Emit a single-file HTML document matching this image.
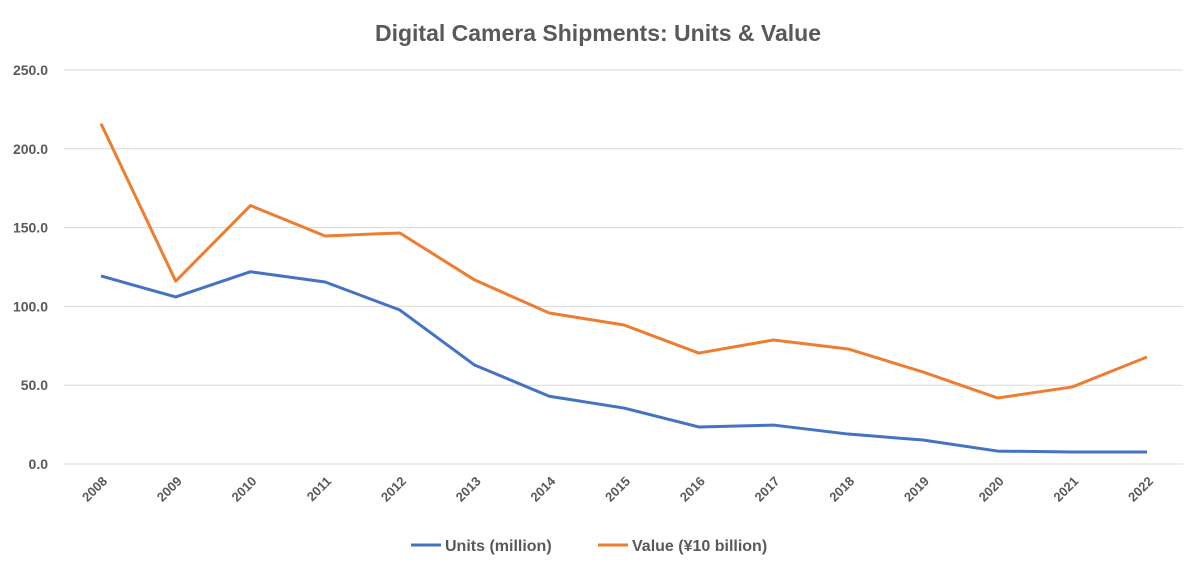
<!DOCTYPE html>
<html><head><meta charset="utf-8"><style>
body{margin:0;background:#fff;font-family:"Liberation Sans",sans-serif;}
svg{display:block}
</style></head><body>
<svg id="chart" width="1200" height="571">
<text x="598" y="41" text-anchor="middle" font-size="23" font-weight="bold" fill="#595959">Digital Camera Shipments: Units &amp; Value</text>
<g id="grid"></g><g id="ylab"></g><g id="xlab"></g><g id="lines"></g>
<g>
<g><line x1="411" y1="545" x2="441" y2="545" stroke="#4472C4" stroke-width="3"/><text x="445" y="551" font-size="16" font-weight="bold" fill="#595959">Units (million)</text></g>
<g><line x1="598" y1="545" x2="628" y2="545" stroke="#ED7D31" stroke-width="3"/><text x="632" y="551" font-size="16" font-weight="bold" fill="#595959">Value (¥10 billion)</text></g>
</g>
</svg>
<script>
const years=['2008','2009','2010','2011','2012','2013','2014','2015','2016','2017','2018','2019','2020','2021','2022'];
const units=[119.3,106,122,115.5,97.7,62.8,43,35.5,23.5,24.7,19,15.2,8.2,7.6,7.6];
const value=[216,116,164,144.7,146.6,116.8,95.8,88.2,70.4,78.7,73,58.4,41.9,48.9,67.9];
const yTicks=[0,50,100,150,200,250];
const NS='http://www.w3.org/2000/svg';
const y=v=>464-v*(394/250);
const x=i=>101+i*(1046/14);
function mk(t,a,p){const e=document.createElementNS(NS,t);for(const k in a)e.setAttribute(k,a[k]);p.appendChild(e);return e;}
const grid=document.getElementById('grid'),yl=document.getElementById('ylab'),xl=document.getElementById('xlab'),ln=document.getElementById('lines');
yTicks.forEach(t=>{
 const g=mk('line',{x1:64,x2:1183,y1:y(t),y2:y(t),stroke:'#D9D9D9','stroke-width':1},grid);
 
 
 const l=mk('text',{x:48,y:y(t)+5,'text-anchor':'end','font-size':14,'font-weight':'bold',fill:'#595959'},yl);
 l.textContent=t.toFixed(1);
 
 
});
years.forEach((yr,i)=>{
 const l=mk('text',{x:x(i)+7,y:482,'text-anchor':'end','font-size':13,'font-weight':'bold',fill:'#595959',transform:`rotate(-45 ${x(i)+7} 482)`},xl);
 l.textContent=yr;
 
 
});
[[units,'#4472C4','units-line'],[value,'#ED7D31','value-line']].forEach(([d,c,n])=>{
 const p=mk('polyline',{points:d.map((v,i)=>x(i)+','+y(v)).join(' '),fill:'none',stroke:c,'stroke-width':3,'stroke-linejoin':'round'},ln);
 
 
});
</script>
</body></html>
